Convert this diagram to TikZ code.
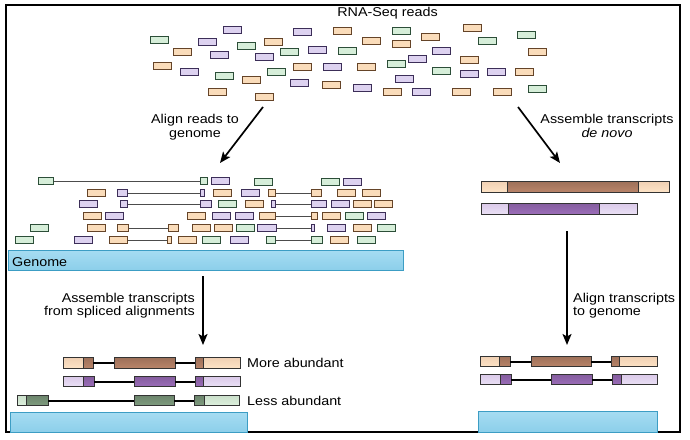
\documentclass[tikz,border=0pt]{standalone}
\usepackage{fontspec}
\setmainfont{Liberation Sans}[FakeStretch=1.12]
\usetikzlibrary{arrows.meta}

\definecolor{greenfill}{HTML}{D6EED9}
\definecolor{greenline}{HTML}{2C4E38}
\definecolor{purplefill}{HTML}{DDD2F0}
\definecolor{purpleline}{HTML}{3C2E58}
\definecolor{orangefill}{HTML}{FADCBA}
\definecolor{orangeline}{HTML}{654428}
\definecolor{utrorange}{HTML}{FDE3C6}
\definecolor{cdsorange}{HTML}{B98469}
\definecolor{utrpurple}{HTML}{EAE0F5}
\definecolor{cdspurple}{HTML}{9B6DB9}
\definecolor{utrgreen}{HTML}{DDF0DD}
\definecolor{cdsgreen}{HTML}{7F9C7F}
\definecolor{genometop}{HTML}{A6DCF2}
\definecolor{genomemid}{HTML}{EEF9FD}
\definecolor{genomebottom}{HTML}{8CCFEA}
\definecolor{genomeline}{HTML}{3C9DC4}

\tikzset{
  greenread/.style = {top color=greenfill, middle color=greenfill!35!white, bottom color=greenfill, draw=greenline},
  purpleread/.style = {top color=purplefill, middle color=purplefill!35!white, bottom color=purplefill, draw=purpleline},
  orangeread/.style = {top color=orangefill, middle color=orangefill!35!white, bottom color=orangefill, draw=orangeline},
  exon/.style = {rectangle, draw=black!80, inner sep=0pt, line width=0.9pt},
  orangeutr/.style = {exon, top color=utrorange!80!cdsorange, middle color=utrorange!40!white, bottom color=utrorange},
  orangecds/.style = {exon, top color=cdsorange!85!black, middle color=cdsorange!75!white, bottom color=cdsorange},
  purpleutr/.style = {exon, top color=utrpurple!80!cdspurple, middle color=utrpurple!40!white, bottom color=utrpurple},
  purplecds/.style = {exon, top color=cdspurple!85!black, middle color=cdspurple!75!white, bottom color=cdspurple},
  greenutr/.style = {exon, top color=utrgreen!80!cdsgreen, middle color=utrgreen!40!white, bottom color=utrgreen},
  greencds/.style = {exon, top color=cdsgreen!85!black, middle color=cdsgreen!75!white, bottom color=cdsgreen},
  genome/.style = {rectangle, draw=genomeline, inner sep=0pt, line width=0.9pt,
    top color=genometop, middle color=genomemid, bottom color=genomebottom},
  bigarrow/.style = {-{Stealth[length=11pt, width=9pt, inset=2.5pt]}, line width=1.7pt},
  textlabel/.style = {inner sep=0pt}
}

\begin{document}
\begin{tikzpicture}[x=1pt, y=-1pt, font=\fontsize{12.8}{13.5}\selectfont]
\useasboundingbox (0,0) rectangle (690,439);
\draw[line width=1.2pt] (6,5) rectangle (680,432);

% scattered reads
\begin{scope}[every node/.style = {rectangle, inner sep=0pt, minimum width=18pt, minimum height=7pt, line width=1pt}]
\node[purpleread] (t1) at (232,30) {};
\node[greenread] (t2) at (159,40) {};
\node[purpleread] (t3) at (207,42) {};
\node[orangeread] (t4) at (182,52) {};
\node[greenread] (t5) at (246,46) {};
\node[orangeread] (t6) at (273,42) {};
\node[purpleread] (t7) at (219,55) {};
\node[purpleread] (t8) at (264,57) {};
\node[greenread] (t9) at (289,52) {};
\node[purpleread] (t10) at (302,32) {};
\node[purpleread] (t11) at (317,50) {};
\node[orangeread] (t12) at (342,31) {};
\node[greenread] (t13) at (347,51) {};
\node[orangeread] (t14) at (371,41) {};
\node[greenread] (t15) at (401,31) {};
\node[orangeread] (t16) at (401,44) {};
\node[orangeread] (t17) at (430,37) {};
\node[purpleread] (t18) at (441,51) {};
\node[purpleread] (t19) at (417,59) {};
\node[greenread] (t20) at (396,64) {};
\node[orangeread] (t21) at (472,28) {};
\node[greenread] (t22) at (487,41) {};
\node[greenread] (t23) at (526,35) {};
\node[orangeread] (t24) at (537,52) {};
\node[orangeread] (t25) at (469,60) {};
\node[orangeread] (t26) at (162,66) {};
\node[purpleread] (t27) at (189,72) {};
\node[greenread] (t28) at (224,76) {};
\node[orangeread] (t29) at (251,80) {};
\node[greenread] (t30) at (276,72) {};
\node[orangeread] (t31) at (302,67) {};
\node[purpleread] (t32) at (332,67) {};
\node[orangeread] (t33) at (366,67) {};
\node[greenread] (t34) at (441,71) {};
\node[purpleread] (t35) at (469,74) {};
\node[purpleread] (t36) at (496,72) {};
\node[orangeread] (t37) at (524,72) {};
\node[greenread] (t38) at (537,89) {};
\node[purpleread] (t39) at (299,83) {};
\node[orangeread] (t40) at (331,85) {};
\node[purpleread] (t41) at (362,88) {};
\node[purpleread] (t42) at (404,79) {};
\node[orangeread] (t43) at (392,92) {};
\node[purpleread] (t44) at (421,92) {};
\node[orangeread] (t45) at (461,92) {};
\node[orangeread] (t46) at (502,92) {};
\node[orangeread] (t47) at (217,92) {};
\node[orangeread] (t48) at (264,97) {};
\end{scope}

% reads aligned to the genome
\begin{scope}[every node/.style = {rectangle, inner sep=0pt, minimum width=18pt, minimum height=7pt, line width=1pt}]
\node[greenread, minimum width=15pt] (m1) at (45.5,181) {};
\node[greenread, minimum width=7pt] (m2) at (203.5,181) {};
\node[purpleread] (m3) at (220,181) {};
\node[greenread] (m4) at (263.5,182) {};
\node[greenread] (m5) at (330,182) {};
\node[purpleread] (m6) at (352,182) {};
\node[orangeread] (m7) at (96,193) {};
\node[purpleread, minimum width=10pt] (m8) at (122,193) {};
\node[purpleread, minimum width=4pt] (m9) at (202,193) {};
\node[orangeread] (m10) at (222.5,193) {};
\node[purpleread] (m11) at (250,193) {};
\node[orangeread, minimum width=7pt] (m12) at (271.5,193) {};
\node[orangeread, minimum width=10pt] (m13) at (316,193) {};
\node[orangeread] (m14) at (346.5,193) {};
\node[orangeread] (m15) at (371,193) {};
\node[purpleread] (m16) at (88,204) {};
\node[purpleread, minimum width=7pt] (m17) at (123.5,204) {};
\node[purpleread, minimum width=11pt] (m18) at (205.5,204) {};
\node[greenread] (m19) at (227.5,204) {};
\node[orangeread] (m20) at (254,204) {};
\node[purpleread, minimum width=4pt] (m21) at (273,204) {};
\node[purpleread, minimum width=15pt] (m22) at (318.5,204) {};
\node[purpleread] (m23) at (340,204) {};
\node[orangeread] (m24) at (362,204) {};
\node[orangeread] (m25) at (383.5,204) {};
\node[orangeread] (m26) at (92.5,216) {};
\node[purpleread] (m27) at (114,216) {};
\node[orangeread] (m28) at (196.5,216) {};
\node[purpleread] (m29) at (221.5,216) {};
\node[purpleread] (m30) at (244,216) {};
\node[orangeread, minimum width=16pt] (m31) at (267,216) {};
\node[orangeread, minimum width=6pt] (m32) at (314,216) {};
\node[orangeread] (m33) at (331,216) {};
\node[greenread] (m34) at (354,216) {};
\node[purpleread] (m35) at (376,216) {};
\node[greenread] (m36) at (39.5,228) {};
\node[orangeread] (m37) at (96,228) {};
\node[orangeread, minimum width=11pt] (m38) at (122.5,228) {};
\node[orangeread, minimum width=10pt] (m39) at (173,228) {};
\node[orangeread] (m40) at (201,228) {};
\node[orangeread] (m41) at (223,228) {};
\node[greenread] (m42) at (245,228) {};
\node[purpleread, minimum width=19pt] (m43) at (266.5,228) {};
\node[purpleread, minimum width=3pt] (m44) at (312.5,228) {};
\node[purpleread] (m45) at (336,228) {};
\node[orangeread] (m46) at (362.5,228) {};
\node[greenread] (m47) at (386.5,228) {};
\node[greenread] (m48) at (24,240) {};
\node[purpleread] (m49) at (83.5,240) {};
\node[orangeread] (m50) at (118.5,240) {};
\node[orangeread, minimum width=4pt] (m51) at (169,240) {};
\node[orangeread] (m52) at (187.5,240) {};
\node[greenread] (m53) at (211,240) {};
\node[purpleread] (m54) at (239,240) {};
\node[greenread, minimum width=9pt] (m55) at (270.5,240) {};
\node[greenread, minimum width=11pt] (m56) at (316.5,240) {};
\node[orangeread] (m57) at (339.5,240) {};
\node[greenread] (m58) at (366,240) {};
\end{scope}
\begin{scope}[every edge/.style = {draw, line width=0.9pt, black!70}]
\path (m1) edge (m2);
\path (m8) edge (m9);
\path (m12) edge (m13);
\path (m17) edge (m18);
\path (m21) edge (m22);
\path (m31) edge (m32);
\path (m38) edge (m39);
\path (m43) edge (m44);
\path (m50) edge (m51);
\path (m55) edge (m56);
\end{scope}

% genome bars
\node[genome, minimum width=395pt, minimum height=20pt] (genome1) at (205.5,260) {};
\node[genome, minimum width=237pt, minimum height=20pt] (genome2) at (128.5,422) {};
\node[genome, minimum width=179pt, minimum height=21pt] (genome3) at (567.5,421.5) {};
\node[textlabel, anchor=base west] (genomelabel) at (12,266) {Genome};

% de novo transcripts
\begin{scope}[every node/.style = {minimum height=11pt}]
\node[orangeutr, minimum width=26pt] (d1) at (494,186.5) {};
\node[orangecds, minimum width=131pt] (d2) at (572.5,186.5) {};
\node[orangeutr, minimum width=31pt] (d3) at (653.5,186.5) {};
\node[purpleutr, minimum width=27pt] (d4) at (494.5,208.5) {};
\node[purplecds, minimum width=91pt] (d5) at (553.5,208.5) {};
\node[purpleutr, minimum width=38pt] (d6) at (618,208.5) {};
\end{scope}

% spliced transcripts
\begin{scope}[every node/.style = {minimum height=10.5pt}]
\node[orangeutr, minimum width=20pt] (s1) at (73,363) {};
\node[orangecds, minimum width=10pt] (s2) at (88,363) {};
\node[orangecds, minimum width=61pt] (s3) at (144.5,363) {};
\node[orangecds, minimum width=8pt] (s4) at (199,363) {};
\node[orangeutr, minimum width=37pt] (s5) at (221.5,363) {};
\node[purpleutr, minimum width=20pt] (s6) at (73,381.5) {};
\node[purplecds, minimum width=11pt] (s7) at (88.5,381.5) {};
\node[purplecds, minimum width=41pt] (s8) at (154.5,381.5) {};
\node[purplecds, minimum width=8pt] (s9) at (199,381.5) {};
\node[purpleutr, minimum width=37pt] (s10) at (221.5,381.5) {};
\node[greenutr, minimum width=9pt] (s11) at (21.5,400.5) {};
\node[greencds, minimum width=22pt] (s12) at (37,400.5) {};
\node[greencds, minimum width=40pt] (s13) at (154,400.5) {};
\node[greencds, minimum width=10pt] (s14) at (199,400.5) {};
\node[greenutr, minimum width=35pt] (s15) at (221.5,400.5) {};
\node[orangeutr, minimum width=19pt] (u1) at (489.5,361.5) {};
\node[orangecds, minimum width=11pt] (u2) at (504.5,361.5) {};
\node[orangecds, minimum width=60pt] (u3) at (561,361.5) {};
\node[orangecds, minimum width=8pt] (u4) at (615,361.5) {};
\node[orangeutr, minimum width=38pt] (u5) at (638,361.5) {};
\node[purpleutr, minimum width=20pt] (u6) at (490,379.5) {};
\node[purplecds, minimum width=11pt] (u7) at (505.5,379.5) {};
\node[purplecds, minimum width=41pt] (u8) at (571.5,379.5) {};
\node[purplecds, minimum width=9pt] (u9) at (616.5,379.5) {};
\node[purpleutr, minimum width=36pt] (u10) at (639,379.5) {};
\end{scope}
\begin{scope}[every edge/.style = {draw, line width=2pt}]
\path (s2) edge (s3);
\path (s3) edge (s4);
\path (s7) edge (s8);
\path (s8) edge (s9);
\path (s12) edge (s13);
\path (s13) edge (s14);
\path (u2) edge (u3);
\path (u3) edge (u4);
\path (u7) edge (u8);
\path (u8) edge (u9);
\end{scope}

% arrows
\coordinate (leftfrom) at (263,107);
\coordinate (leftto) at (220,163);
\coordinate (rightfrom) at (518,107);
\coordinate (rightto) at (560,163);
\coordinate (downfrom) at (203,276);
\coordinate (downto) at (203,345);
\coordinate (alignfrom) at (567,231);
\coordinate (alignto) at (567,345);
\draw[bigarrow] (leftfrom) -- (leftto);
\draw[bigarrow] (rightfrom) -- (rightto);
\draw[bigarrow] (downfrom) -- (downto);
\draw[bigarrow] (alignfrom) -- (alignto);

% labels
\node[textlabel, anchor=base] (title) at (387.5,16.7) {RNA-Seq reads};
\node[textlabel, anchor=north, align=center] (alignlabel) at (195,114.3) {Align reads to\\genome};
\node[textlabel, anchor=north, align=center] (denovolabel) at (607,114.3) {Assemble transcripts\\\textit{de novo}};
\node[textlabel, anchor=north east, align=right] (splicelabel) at (195,292.7) {Assemble transcripts\\from spliced alignments};
\node[textlabel, anchor=north west, align=left] (tolabel) at (573,292.7) {Align transcripts\\to genome};
\node[textlabel, anchor=base west] (more) at (247,367.5) {More abundant};
\node[textlabel, anchor=base west] (less) at (247,405) {Less abundant};
\end{tikzpicture}
\end{document}
